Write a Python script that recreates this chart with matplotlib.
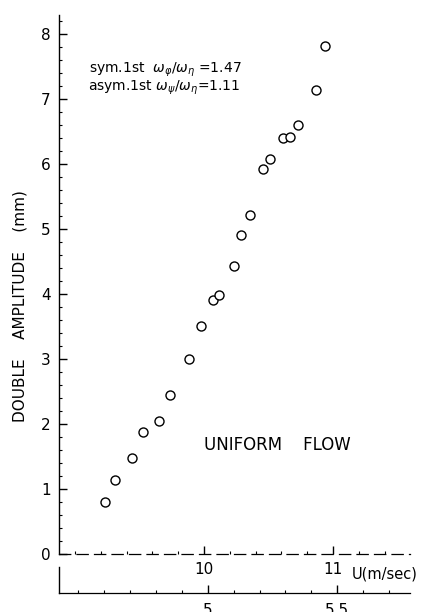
#!/usr/bin/env python3

# double amplitude of the model against flow speed, uniform flow case
#

import matplotlib.pyplot as plt
from matplotlib.ticker import MultipleLocator, FixedLocator, FixedFormatter

plt.rcParams["font.family"] = ["Liberation Sans Narrow", "DejaVu Sans"]

speed = [9.23, 9.31, 9.44, 9.53, 9.65, 9.74, 9.88, 9.98, 10.07, 10.12,
         10.23, 10.29, 10.36, 10.455, 10.51, 10.61, 10.67, 10.73, 10.87, 10.94]
amplitude = [0.80, 1.14, 1.48, 1.88, 2.05, 2.45, 3.00, 3.51, 3.90, 3.98,
             4.43, 4.90, 5.22, 5.92, 6.08, 6.40, 6.41, 6.60, 7.13, 7.81]

b_omega = 2.006  # U / (b w) scale factor

y_ticks = [0, 1, 2, 3, 4, 5, 6, 7, 8]
u_ticks = [10, 11]
u_tick_labels = ["10", "11"]
red_ticks = [5, 5.5]
red_tick_labels = ["5", "5.5"]

fig = plt.figure(figsize=(4.29, 6.12), dpi=100)
ax = fig.add_axes([59 / 429, 58 / 612, 351 / 429, 539 / 612])

ax.plot(speed, amplitude, "o", mfc="white", mec="black", ms=6.5, mew=1.0)

ax.set_xlim(8.876, 11.597)
ax.set_ylim(0, 8.29)

ax.spines["top"].set_visible(False)
ax.spines["right"].set_visible(False)
ax.spines["left"].set_linewidth(1.0)
ax.spines["bottom"].set_linewidth(0.9)
ax.spines["bottom"].set_linestyle((0, (9, 5)))

ax.set_yticks(y_ticks)
ax.yaxis.set_minor_locator(MultipleLocator(0.2))
ax.set_xticks(u_ticks, u_tick_labels)
ax.xaxis.set_minor_locator(MultipleLocator(0.2))
ax.tick_params(which="major", direction="in", length=6, width=1.0,
               labelsize=11, pad=6)
ax.tick_params(which="minor", direction="in", length=2, width=0.8)

# second speed scale, reduced by b*omega
sec = ax.secondary_xaxis(-0.0724, functions=(lambda u: u / b_omega,
                                              lambda r: r * b_omega))
sec.xaxis.set_major_locator(FixedLocator(red_ticks))
sec.xaxis.set_major_formatter(FixedFormatter(red_tick_labels))
sec.xaxis.set_minor_locator(MultipleLocator(0.1))
sec.tick_params(which="major", direction="in", length=6, width=1.0,
                labelsize=11, pad=7)
sec.tick_params(which="minor", direction="in", length=2, width=0.8)
sec.spines["bottom"].set_linewidth(0.9)
ax.plot([8.876, 8.876], [-0.2, -0.6], color="black", lw=1.0, clip_on=False)

ax.text(11.147, -0.19, "U(m/sec)", fontsize=10.5, va="top", ha="left")
ax.text(11.30, -0.87, r"U/b$\omega$", fontsize=10.5, va="top", ha="left")

fig.text(20 / 429, 1 - 306 / 612, "DOUBLE    AMPLITUDE    (mm)", rotation=90,
         ha="center", va="center", fontsize=11, family="DejaVu Sans")

ax.text(9.11, 7.4, r"sym.1st  $\omega_\varphi/\omega_\eta$ =1.47",
        fontsize=10, family="DejaVu Sans")
ax.text(9.10, 7.13, r"asym.1st $\omega_\psi/\omega_\eta$=1.11",
        fontsize=10, family="DejaVu Sans")

ax.text(10.0, 1.6, "UNIFORM    FLOW", fontsize=12, family="DejaVu Sans")

plt.savefig("out.png", dpi=100)
